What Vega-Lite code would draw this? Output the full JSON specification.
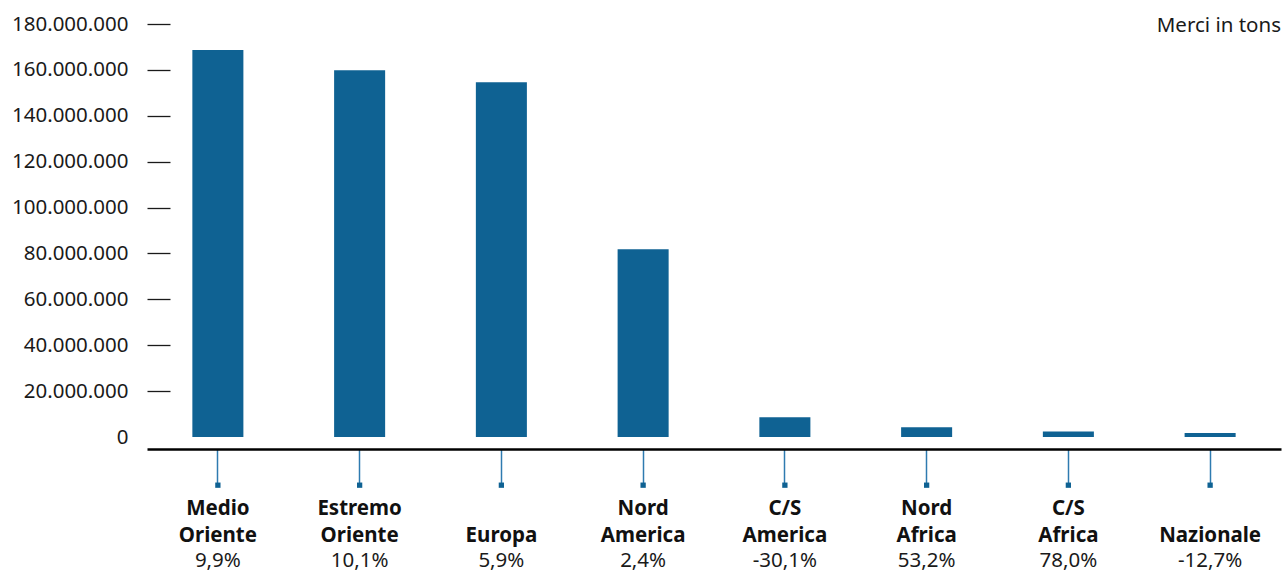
{
  "$schema": "https://vega.github.io/schema/vega-lite/v6.json",
  "width": 1134,
  "height": 413,
  "autosize": {"type": "none"},
  "padding": {"left": 147, "top": 24, "right": 2, "bottom": 135},
  "background": "white",
  "config": {
    "font": "Noto Sans",
    "view": {"stroke": null},
    "axis": {"grid": false},
    "locale": {
      "number": {"decimal": ",", "thousands": ".", "grouping": [3], "currency": ["€", ""]}
    },
    "axisY": {
      "title": null,
      "values": [0, 20000000, 40000000, 60000000, 80000000, 100000000, 120000000, 140000000, 160000000, 180000000],
      "labelExpr": "format(datum.value, ',')",
      "offset": -23,
      "tickSize": 23,
      "tickColor": "#1a1a1a",
      "tickWidth": 1.3,
      "tickOpacity": {"condition": {"test": "datum.value === 0", "value": 0}, "value": 1},
      "domain": false,
      "labelPadding": 19,
      "labelFontSize": 20.5,
      "labelColor": "#1a1a1a",
      "labelBound": false,
      "labelFlush": false,
      "labelOverlap": false
    }
  },
  "title": {
    "text": "Merci in tons",
    "anchor": "end",
    "frame": "group",
    "fontSize": 20.5,
    "fontWeight": "normal",
    "color": "#1a1a1a",
    "baseline": "alphabetic",
    "offset": 0,
    "dy": 38
  },
  "data": {
    "values": [
      {"cat": "Medio|Oriente", "pct": "9,9%", "v": 168650000},
      {"cat": "Estremo|Oriente", "pct": "10,1%", "v": 159800000},
      {"cat": "|Europa", "pct": "5,9%", "v": 154600000},
      {"cat": "Nord|America", "pct": "2,4%", "v": 81800000},
      {"cat": "C/S|America", "pct": "-30,1%", "v": 8600000},
      {"cat": "Nord|Africa", "pct": "53,2%", "v": 4300000},
      {"cat": "C/S|Africa", "pct": "78,0%", "v": 2400000},
      {"cat": "|Nazionale", "pct": "-12,7%", "v": 1700000}
    ]
  },
  "encoding": {
    "x": {
      "field": "cat",
      "type": "nominal",
      "sort": null,
      "scale": {"paddingInner": 0.64, "paddingOuter": 0.32},
      "axis": {
        "title": null,
        "offset": 12,
        "domainColor": "#000000",
        "domainWidth": 2.5,
        "tickColor": "#2e7bb0",
        "tickWidth": 1.5,
        "tickSize": 36,
        "labelAngle": 0,
        "labelFontSize": 20.5,
        "labelFontWeight": "bold",
        "labelColor": "#111111",
        "labelExpr": "split(datum.value, '|')",
        "labelBaseline": "top",
        "labelLineHeight": 27,
        "labelPadding": 13,
        "labelOverlap": false,
        "labelBound": false,
        "labelFlush": false
      }
    }
  },
  "layer": [
    {
      "mark": {"type": "bar", "color": "#0f6293"},
      "encoding": {
        "y": {
          "field": "v",
          "type": "quantitative",
          "scale": {"domain": [0, 180000000], "nice": false, "zero": true},
          "axis": {"title": null, "labelExpr": "format(datum.value, ',')"}
        }
      }
    },
    {
      "mark": {"type": "point", "shape": "square", "filled": true, "size": 28, "color": "#0f6293", "opacity": 1},
      "encoding": {
        "y": {"datum": -21000000, "type": "quantitative", "scale": {"domain": [0, 180000000], "nice": false}, "axis": {"title": null, "labelExpr": "format(datum.value, ',')"}}
      }
    },
    {
      "mark": {"type": "text", "fontSize": 20.5, "baseline": "alphabetic", "color": "#1a1a1a"},
      "encoding": {
        "y": {"datum": -56700000, "type": "quantitative", "scale": {"domain": [0, 180000000], "nice": false}, "axis": {"title": null, "labelExpr": "format(datum.value, ',')"}},
        "text": {"field": "pct"}
      }
    }
  ]
}
